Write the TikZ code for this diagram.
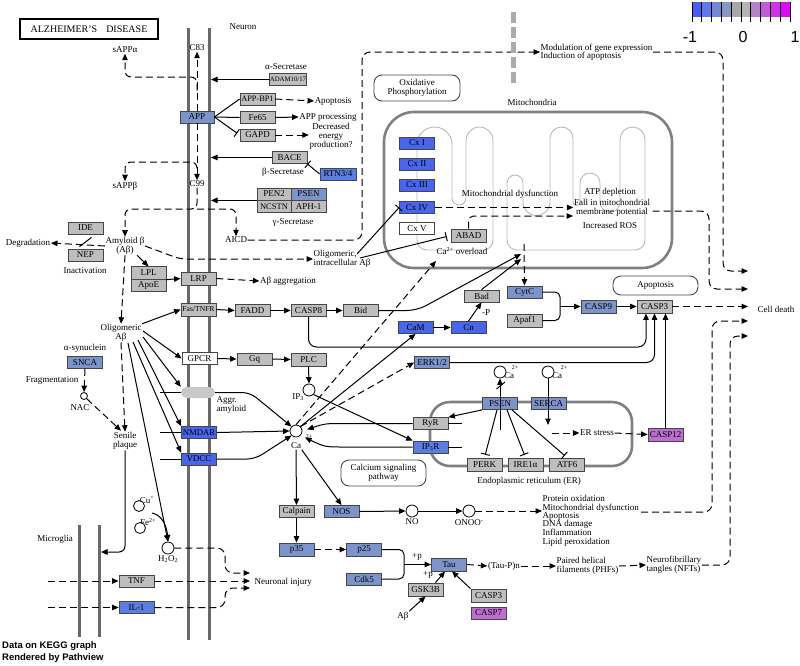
\documentclass[tikz,border=0pt]{standalone}
\usepackage{fontspec}
\setmainfont{Liberation Serif}
\newfontfamily\arialf{Liberation Sans}
\usetikzlibrary{arrows.meta,calc}
\definecolor{kgray}{RGB}{190,190,190}
\definecolor{kborder}{RGB}{70,70,70}
\definecolor{kbg}{RGB}{125,148,203}
\definecolor{kbi}{RGB}{72,101,236}
\definecolor{kbm}{RGB}{92,125,226}
\definecolor{kpur}{RGB}{190,110,210}
\definecolor{membc}{RGB}{105,105,105}
\definecolor{cristac}{RGB}{185,185,185}
\definecolor{pillc}{RGB}{200,200,200}
\definecolor{lg1}{RGB}{70,95,250}
\definecolor{lg2}{RGB}{95,120,235}
\definecolor{lg3}{RGB}{115,135,215}
\definecolor{lg4}{RGB}{135,150,195}
\definecolor{lg5}{RGB}{168,168,168}
\definecolor{lg6}{RGB}{180,180,180}
\definecolor{lg7}{RGB}{180,130,200}
\definecolor{lg8}{RGB}{195,90,215}
\definecolor{lg9}{RGB}{210,50,230}
\definecolor{lg10}{RGB}{222,10,245}
\tikzset{
  bx/.style={draw=kborder, line width=0.8pt, minimum width=35pt, minimum height=12pt, inner sep=0pt, font=\fontsize{9}{9}\selectfont},
  gbox/.style={bx, fill=kgray},
  bbox/.style={bx, fill=kbg},
  ibox/.style={bx, fill=kbi},
  mbox/.style={bx, fill=kbm},
  pbox/.style={bx, fill=kpur},
  wbox/.style={bx, fill=white},
  lbl/.style={inner sep=0.5pt, font=\fontsize{9}{9}\selectfont, align=center},
  tinylbl/.style={inner sep=0pt, font=\fontsize{6}{6}\selectfont},
  cmp/.style={circle, draw=black, line width=0.8pt, fill=white, minimum size=12pt, inner sep=0pt},
  ln/.style={line width=1pt},
  ar/.style={ln, -{Triangle[length=6.5pt,width=5.5pt]}},
  dar/.style={ar, dash pattern=on 7pt off 4pt},
  inh/.style={ln, -{Bar[width=9pt]}},
  memb/.style={line width=3pt, draw=membc},
  rbox/.style={draw=kborder, rounded corners=8pt, line width=0.9pt, fill=white, align=center, font=\fontsize{9}{9}\selectfont, inner sep=1pt},
  crista/.style={line width=0.9pt, draw=cristac}
}
\begin{document}
\begin{tikzpicture}[x=1pt,y=-1pt]
\fill[white] (0,0) rectangle (800,665);
\path[use as bounding box] (0,0) rectangle (800,665);

% ---------- membranes ----------
\draw[memb] (188,28) -- (188,640);
\draw[memb] (209,28) -- (209,640);
\draw[memb] (79,525) -- (79,637);
\draw[memb] (99,525) -- (99,637);

% mitochondrion
\draw[line width=2.6pt, draw=membc!85, rounded corners=30pt] (384,112) rectangle (672,268);
\draw[crista] (417,240) -- (417,144.5) arc[start angle=180,end angle=0,radius=17.5pt] -- (452,198) arc[start angle=180,end angle=360,radius=7pt] -- (466,140.5) arc[start angle=180,end angle=0,radius=13.5pt] -- (493,240) arc[start angle=0,end angle=-90,radius=10pt] -- (427,250) arc[start angle=270,end angle=180,radius=10pt] -- cycle;
\draw[crista] (507,240) -- (507,183) arc[start angle=180,end angle=0,radius=8pt] -- (523,202) arc[start angle=180,end angle=360,radius=13.5pt] -- (550,138.5) arc[start angle=180,end angle=0,radius=11.5pt] -- (573,202) arc[start angle=180,end angle=360,radius=3.5pt] -- (580,183) arc[start angle=180,end angle=0,radius=10pt] -- (600,202) arc[start angle=180,end angle=360,radius=10pt] -- (620,139.5) arc[start angle=180,end angle=0,radius=12.5pt] -- (645,240) arc[start angle=0,end angle=-90,radius=10pt] -- (517,250) arc[start angle=270,end angle=180,radius=10pt] -- cycle;

% ER
\draw[line width=2.6pt, draw=membc!85, rounded corners=20pt] (430,402) rectangle (632,466);

% ---------- legend ----------
\fill[lg1] (692,2) rectangle (701.8,17);
\fill[lg2] (701.8,2) rectangle (711.6,17);
\fill[lg3] (711.6,2) rectangle (721.4,17);
\fill[lg4] (721.4,2) rectangle (731.2,17);
\fill[lg5] (731.2,2) rectangle (741,17);
\fill[lg6] (741,2) rectangle (750.8,17);
\fill[lg7] (750.8,2) rectangle (760.6,17);
\fill[lg8] (760.6,2) rectangle (770.4,17);
\fill[lg9] (770.4,2) rectangle (780.2,17);
\fill[lg10] (780.2,2) rectangle (790,17);
\foreach \i in {0,...,10} { \draw[line width=0.8pt] (692+9.8*\i,2) -- (692+9.8*\i,22); }
\node[font=\arialf\fontsize{16}{16}\selectfont, inner sep=0] (lgm) at (690,37) {-1};
\node[font=\arialf\fontsize{16}{16}\selectfont, inner sep=0] (lg0) at (743,37) {0};
\node[font=\arialf\fontsize{16}{16}\selectfont, inner sep=0] (lgp) at (795,37) {1};

% ---------- title & text ----------
\node[draw=black, line width=1.5pt, minimum width=138pt, minimum height=20pt, inner sep=0pt, font=\fontsize{10}{10}\selectfont] (title) at (89,29) {ALZHEIMER'S\hspace{9pt}DISEASE};
\node[lbl] (neuron) at (243,27) {Neuron};
\node[lbl] (salpha) at (125,50) {sAPPα};
\node[lbl] (c83) at (197,48) {C83};
\node[lbl] (sbeta) at (125,186) {sAPPβ};
\node[lbl] (c99) at (197,184) {C99};
\node[lbl] (aicd) at (236,240) {AICD};
\node[lbl] (asec) at (286,67) {α-Secretase};
\node[lbl] (bsec) at (283,172) {β-Secretase};
\node[lbl] (gsec) at (293,222) {γ-Secretase};
\node[lbl] (apop1) at (333,101) {Apoptosis};
\node[lbl] (appproc) at (328,117) {APP processing};
\node[lbl] (decr) at (331,136) {Decreased\\energy\\production?};
\node[lbl, align=left, anchor=west, font=\fontsize{9}{8.3}\selectfont] (modul) at (540,52) {Modulation of gene expression\\Induction of apoptosis};
\node[lbl] (mito) at (532,102) {Mitochondria};
\node[lbl] (mitodys) at (510,194) {Mitochondrial dysfunction};
\node[lbl] (atpdep) at (610,192) {ATP depletion};
\node[lbl] (fall) at (612,208) {Fall in mitochondrial\\membrane potential};
\node[lbl] (ros) at (610,225) {Increased ROS};
\node[lbl, align=left, anchor=west] (oligi) at (313,259) {Oligomeric,\\intracellular Aβ};
\node[lbl] (overload) at (462,251) {Ca\textsuperscript{2+} overload};
\node[lbl] (degr) at (28,243) {Degradation};
\node[lbl] (abeta) at (125,246) {Amyloid β\\(Aβ)};
\node[lbl] (inact) at (85,271) {Inactivation};
\node[lbl] (aagg) at (288,281) {Aβ aggregation};
\node[lbl] (olig) at (121,333) {Oligomeric\\Aβ};
\node[lbl] (asyn) at (85,348) {α-synuclein};
\node[lbl] (frag) at (52,380) {Fragmentation};
\node[lbl] (naclbl) at (80,408) {NAC};
\node[lbl] (senile) at (125,441) {Senile\\plaque};
\node[lbl, align=left, anchor=west] (aggr) at (216,405) {Aggr.\\amyloid};
\node[lbl] (ip3lbl) at (298,397) {IP\textsubscript{3}};
\node[lbl] (calab) at (296,446) {Ca};
\node[tinylbl] (calab2) at (309,437) {2+};
\node[lbl] (erlbl) at (529,481) {Endoplasmic reticulum (ER)};
\node[lbl] (erstress) at (597,433) {ER stress};
\node[lbl] (nolbl) at (412,522) {NO};
\node[lbl] (onoolbl) at (469,523) {ONOO\textsuperscript{-}};
\node[lbl, align=left, anchor=north west, font=\fontsize{9}{8.2}\selectfont] (prot) at (542,495) {Protein oxidation\\Mitochondrial dysfunction\\Apoptosis\\DNA damage\\Inflammation\\Lipid peroxidation};
\node[lbl] (pp1) at (417,557) {+p};
\node[lbl] (pp2) at (428,575) {+p};
\node[lbl] (ablbl) at (403,616) {Aβ};
\node[lbl] (pmark) at (486,313) {-P};
\node[lbl] (taup) at (504,566) {(Tau-P)n};
\node[lbl, align=left, anchor=west, font=\fontsize{9}{8.5}\selectfont] (phf) at (556,566) {Paired helical\\filaments (PHFs)};
\node[lbl, align=left, anchor=west, font=\fontsize{9}{8.5}\selectfont] (nft) at (646,565) {Neurofibrillary\\tangles (NFTs)};
\node[lbl] (microglia) at (55,539) {Microglia};
\node[lbl, anchor=west] (ninj) at (254,582) {Neuronal injury};
\node[lbl, anchor=west] (celld) at (757,309) {Cell death};
\node[lbl] (cul) at (147,500) {Cu\textsuperscript{+}};
\node[lbl] (fel) at (148,522) {Fe\textsuperscript{2+}};
\node[lbl] (h2o2lbl) at (168,559) {H\textsubscript{2}O\textsubscript{2}};
\node[lbl] (ca1l) at (509,376) {Ca};
\node[tinylbl] (ca1s) at (515,368) {2+};
\node[lbl] (ca2l) at (557,376) {Ca};
\node[tinylbl] (ca2s) at (564,368) {2+};
\node[anchor=west, align=left, inner sep=0, font=\arialf\bfseries\fontsize{9.5}{12}\selectfont] (data) at (2,652) {Data on KEGG graph\\Rendered by Pathview};

% rounded info boxes
\node[rbox, minimum width=86pt, minimum height=26pt] (oxphos) at (417,88) {Oxidative\\Phosphorylation};
\node[rbox, minimum width=85pt, minimum height=19pt] (apopbox) at (655.5,285.5) {Apoptosis};
\node[rbox, minimum width=85pt, minimum height=26pt] (calsig) at (383.5,473) {Calcium signaling\\pathway};

% ---------- gene boxes ----------
\node[bbox, minimum width=34pt] (app) at (197,117) {APP};
\node[gbox, minimum width=36pt, font=\fontsize{6.8}{7}\selectfont] (adam) at (288,79.5) {ADAM10/17};
\node[gbox, font=\fontsize{8.3}{8}\selectfont] (appbp1) at (257.5,99) {APP-BP1};
\node[gbox] (fe65) at (257.5,117.5) {Fe65};
\node[gbox] (gapd) at (257.5,135) {GAPD};
\node[gbox] (bace) at (289.5,157.5) {BACE};
\node[mbox, minimum width=36pt] (rtn) at (338,174) {RTN3/4};
\node[gbox, minimum width=34pt] (pen2) at (274,194) {PEN2};
\node[bbox] (psen) at (308.5,194) {PSEN};
\node[gbox, minimum width=34pt, minimum height=12.5pt, font=\fontsize{8.5}{9}\selectfont] (ncstn) at (274,206.5) {NCSTN};
\node[gbox, minimum height=12.5pt] (aph) at (308.5,206.5) {APH-1};
\node[ibox] (cx1) at (417,143) {Cx I};
\node[ibox] (cx2) at (417,164) {Cx II};
\node[ibox] (cx3) at (417,185) {Cx III};
\node[ibox] (cx4) at (417,207.5) {Cx IV};
\node[wbox] (cx5) at (417,228.5) {Cx V};
\node[gbox, minimum height=13pt] (abad) at (468.5,235.5) {ABAD};
\node[gbox] (ide) at (85.5,228) {IDE};
\node[gbox] (nep) at (85.5,255) {NEP};
\node[gbox, minimum height=12.5pt] (lpl) at (148.5,273) {LPL};
\node[gbox, minimum height=12.5pt] (apoe) at (148.5,285.5) {ApoE};
\node[gbox, minimum height=13pt] (lrp) at (198.5,278.5) {LRP};
\node[gbox, minimum height=13pt, font=\fontsize{7.6}{8}\selectfont] (fas) at (198.5,309.5) {Fas/TNFR};
\node[gbox] (fadd) at (252.5,310.5) {FADD};
\node[gbox] (casp8) at (308.5,310.5) {CASP8};
\node[gbox] (bid) at (360.5,310.5) {Bid};
\node[gbox] (bad) at (481.5,296) {Bad};
\node[ibox] (cam) at (415.5,327.5) {CaM};
\node[ibox] (cn) at (468.5,327.5) {Cn};
\node[bbox] (cytc) at (524.5,292) {CytC};
\node[gbox, minimum height=13pt] (apaf) at (524.5,320.5) {Apaf1};
\node[bbox, minimum height=13pt] (casp9) at (598.5,306.5) {CASP9};
\node[gbox, minimum height=13pt] (casp3) at (654.5,306.5) {CASP3};
\node[wbox] (gpcr) at (199.5,358.5) {GPCR};
\node[gbox] (gq) at (254.5,359) {Gq};
\node[gbox, minimum height=13pt] (plc) at (308.5,359.5) {PLC};
\node[bbox] (erk) at (432,362.5) {ERK1/2};
\node[bbox] (snca) at (85,362.5) {SNCA};
\node[fill=pillc, rounded corners=5.5pt, minimum width=34pt, minimum height=11pt, inner sep=0] (pill) at (198,392.5) {};
\node[ibox, font=\fontsize{8.7}{9}\selectfont] (nmdar) at (199,432.5) {NMDAR};
\node[ibox] (vdcc) at (199,459) {VDCC};
\node[gbox] (ryr) at (430.5,423.5) {RyR};
\node[mbox] (ip3r) at (430.5,447) {IP\textsubscript{3}R};
\node[bbox] (psen2) at (500,403.5) {PSEN};
\node[bbox] (serca) at (548.5,403.5) {SERCA};
\node[gbox, minimum height=13pt] (perk) at (484.5,464.5) {PERK};
\node[gbox, minimum height=13pt] (ire) at (525.5,464.5) {IRE1α};
\node[gbox, minimum height=13pt] (atf6) at (567,464.5) {ATF6};
\node[pbox, minimum height=13pt] (casp12) at (665.5,434.5) {CASP12};
\node[gbox] (calpain) at (296.5,511.5) {Calpain};
\node[bbox] (nos) at (341.5,511.5) {NOS};
\node[bbox, minimum height=13pt] (p35) at (296.5,549.5) {p35};
\node[bbox, minimum height=13pt] (p25) at (364,549.5) {p25};
\node[bbox] (cdk5) at (364,579) {Cdk5};
\node[bbox, minimum height=13pt] (tau) at (449,564.5) {Tau};
\node[gbox, minimum height=13pt] (gsk) at (425.5,589.5) {GSK3B};
\node[gbox, minimum height=13pt] (casp3b) at (488.5,595.5) {CASP3};
\node[pbox] (casp7) at (488.5,613) {CASP7};
\node[gbox] (tnf) at (136.5,581) {TNF};
\node[mbox] (il1) at (136.5,607.5) {IL-1};

% compounds
\node[cmp, minimum size=7pt] (nac) at (84,396) {};
\node[cmp] (ip3) at (309,390) {};
\node[cmp] (cac) at (296,431) {};
\node[cmp] (erca1) at (500,372) {};
\node[cmp] (erca2) at (548,372) {};
\node[cmp] (no) at (412,511) {};
\node[cmp] (onoo) at (469,511) {};
\node[cmp, minimum size=11pt] (cu) at (139,506) {};
\node[cmp, minimum size=11pt] (fe) at (140,528) {};
\node[cmp] (h2o2) at (168,548) {};

% free ends
\coordinate (cd1) at (748,271);
\coordinate (cd2) at (748,289);
\coordinate (cd3) at (748,306.5);
\coordinate (cd4) at (748,321);
\coordinate (cd5) at (748,336);
\coordinate (mj0) at (524,244);
\coordinate (mj1) at (521,254);
\coordinate (mj2) at (521,259);
\coordinate (ovl) at (436,261);
\coordinate (fa2) at (573,216);
\coordinate (oi1) at (357,254);
\coordinate (oi2) at (360,258);
\coordinate (o1) at (143,331);
\coordinate (o2) at (143,337);
\coordinate (o3) at (138,340);
\coordinate (o4) at (133,342);
\coordinate (o5) at (128,343);
\coordinate (pseni) at (500,430);
\coordinate (sercai) at (548,425);
\coordinate (ers) at (552,433);
\coordinate (protend) at (641,512);
\coordinate (ni1) at (250,573);
\coordinate (ni2) at (250,581);
\coordinate (ni3) at (250,588);
\coordinate (tnfin) at (48,581);
\coordinate (ilin) at (48,607.5);
\coordinate (mglia) at (101,552);
\coordinate (cufe) at (152,513);

% ---------- APP processing ----------
\draw[dar] (app.north) -- (c83.south);
\draw[dar, rounded corners=6pt] ($(app.north)+(0,-20)$) -- (197,77) -- (125,77) -- (salpha.south);
\draw[dar] (app.south) -- (c99.north);
\draw[dar, rounded corners=6pt] ($(app.south)+(0,45)$) -- (197,162) -- (125,162) -- (sbeta.north);
\draw[dar, rounded corners=6pt] (c99.south) -- (197,209) -- (125,209) -- (abeta.north);
\draw[dar, rounded corners=6pt] (197,209) -- (236,209) -- (aicd.north);
\draw[dar, rounded corners=8pt] (aicd.east) -- (362,240) -- (362,52) -- (modul.west);
\draw[line width=5pt, draw=black!33, dash pattern=on 11pt off 4pt] (513,12) -- (513,84);
\draw[dar, rounded corners=8pt] (modul.east) -- (723,52) -- (723,271) -- (cd1);

\draw[ar] (adam.west) -- (adam.west -| 211,0);
\draw[ar] (bace.west) -- (bace.west -| 211,0);
\draw[ar] (pen2.south west) -- (pen2.south west -| 211,0);
\draw[ln] (app.east) -- (appbp1.west);
\draw[ln] (app.east) -- (fe65.west);
\draw[inh, shorten >=3pt] (app.east) -- (gapd.west);
\draw[dar] (appbp1.east) -- (apop1.west);
\draw[ar] (fe65.east) -- (appproc.west);
\draw[dar] (gapd.east) -- (decr.west |- gapd.east);
\draw[inh] (rtn.west) -- (bace.south east);

% ---------- mitochondria ----------
\draw[dar] (cx4.east) -- (cx4.east -| fall.west);
\draw[dar, rounded corners=5pt] (abad.north) -- (468.5,216) -- (fa2);
\draw[inh] (oi1) -- (cx4.west);
\draw[inh, shorten >=4pt] (oi2) -- (abad.west);
\draw[dar, rounded corners=6pt] (abeta.east) -- (180,259) -- (oligi.west);
\draw[dar, rounded corners=8pt] ($(fall.east)+(2,3)$) -- (709,211) -- (709,289) -- (cd2);

% ---------- amyloid ----------
\draw[dar] (abeta.west) -- (degr.east);
\draw[ln] ($(nep.north)+(-6,-2)$) -- ($(ide.south)+(6,3)$);
\draw[dar] (abeta.south) -- (olig.north);
\draw[dar] (olig.south) -- (senile.north);
\draw[ar] ($(abeta.south east)+(-8,0)$) -- (lpl.north);
\draw[ar] (lpl.south east) -- (lrp.west);
\draw[dar] (lrp.east) -- (aagg.west);
\draw[ar] (olig.north east) -- (fas.west);
\draw[ar] (fas.east) -- (fadd.west);
\draw[ar] (fadd.east) -- (casp8.west);
\draw[ar] (casp8.east) -- (bid.west);
\draw[ar, rounded corners=10pt] (bid.east) -- (417,310.5) -- (mj1);
\draw[ar] (bad.north) -- (mj2);
\draw[dar] (mj0) -- (cytc.north);
\draw[ar] (cam.east) -- (cn.west);
\draw[ar] (cn.north) -- (bad.south);
\draw[ln, rounded corners=5pt] (cytc.east) -- (560,292) -- (560,320.5) -- (apaf.east);
\draw[ar] (560,306.5) -- (casp9.west);
\draw[ar] (casp9.east) -- (casp3.west);
\draw[dar] (casp3.east) -- (cd3);
\draw[ar, rounded corners=8pt] (casp8.south) -- (308.5,347) -- (646,347) -- ($(casp3.south)+(-8.5,0)$);
\draw[ar, rounded corners=8pt] (erk.east) -- (654.5,362.5) -- (casp3.south);
\draw[ar] (casp12.north) -- (casp12.north |- casp3.south);

% oligomeric
\draw[ar] (o1) -- (gpcr.west);
\draw[ar] (o2) -- (pill.north west);
\draw[ar] (o3) -- (nmdar.north west);
\draw[ar] (o4) -- (vdcc.north west);
\draw[ar] (o5) -- (h2o2.north);
\draw[ln] (160,392.5) -- (pill.west);
\draw[ln] (160,432.5) -- (nmdar.west);
\draw[ln] (160,459) -- (vdcc.west);
\draw[ar, rounded corners=8pt] (pill.east) -- (250,392.5) -- (cac.north west);
\draw[ar] (nmdar.east) -- (cac.west);
\draw[ar, rounded corners=8pt] (vdcc.east) -- (255,459) -- (cac.south west);

\draw[dar] (snca.south) -- (nac.north);
\draw[dar] (nac.south east) -- ($(senile.north)+(-4,-1)$);

\draw[ar] (gpcr.east) -- (gq.west);
\draw[ar] (gq.east) -- (plc.west);
\draw[ar] (plc.south) -- (ip3.north);
\draw[ar] (ip3.south east) -- (ip3r.north west);

% calcium
\draw[ar, shorten >=5pt] (ryr.west) -- (345,423.5) .. controls (325,423.5) .. (cac.east);
\draw[ar, shorten >=5pt] (ip3r.west) -- (345,447) .. controls (325,447) .. (cac.south east);
\draw[dar] (cac.north) -- (ovl);
\draw[dar] (cac.north east) -- (erk.west);
\draw[ar] (cac.north east) -- (cam.south);
\draw[ar] (calab.south) -- (calpain.north);
\draw[ar] (calab.south east) -- (nos.north);
\draw[ar] (nos.east) -- (no.west);
\draw[ar] (no.east) -- (onoo.west);
\draw[dar] (onoo.east) -- (onoo.east -| prot.west);
\draw[dar, rounded corners=8pt] (protend) -- (712,512) -- (712,321) -- (cd4);

% ER
\draw[ln] (ryr.east) -- (462,423.5);
\draw[ln] (ip3r.east) -- (462,447);
\draw[ar] (pseni) -- (erca1.south);
\draw[ln] (496.5,389) -- (505,382);
\draw[ar] (erca2.south) -- (sercai);
\draw[ar] (psen2.south west) -- (ryr.north east);
\draw[inh, shorten >=3pt] ($(psen2.south)+(-3,0)$) -- (perk.north);
\draw[inh, shorten >=3pt] ($(psen2.south)+(7,0)$) -- (ire.north);
\draw[inh, shorten >=3pt] ($(psen2.south)+(12,0)$) -- (atf6.north);
\draw[dar] (ers) -- (erstress.west);
\draw[dar] (erstress.east) -- (casp12.west);

% tau
\draw[ar] (calpain.south) -- (p35.north);
\draw[dar] (p35.east) -- (p25.west);
\draw[ln, rounded corners=5pt] (p25.east) -- (404,549.5) -- (404,579) -- (cdk5.east);
\draw[ar] (404,564.5) -- (tau.west);
\draw[ar] ($(gsk.north)+(10,0)$) -- ($(tau.south)+(-4,0)$);
\draw[ar] (ablbl.north east) -- (gsk.south);
\draw[ar] (casp3b.north west) -- ($(tau.south)+(3,0)$);
\draw[dar] (tau.east) -- (taup.west);
\draw[dar] (taup.east) -- (phf.west);
\draw[dar] (phf.east) -- (nft.west);
\draw[dar, rounded corners=8pt] (nft.east) -- (730,565) -- (730,336) -- (cd5);

% microglia / injury
\draw[ar, rounded corners=6pt] (senile.south) -- (125,552) -- (mglia);
\draw[ar] (cufe) .. controls (163,515) and (167,528) .. (h2o2.north);
\draw[dar, rounded corners=8pt] (h2o2.east) -- (225,548) -- (225,573) -- (ni1);
\draw[dar] (tnfin) -- (tnf.west);
\draw[dar] (ilin) -- (il1.west);
\draw[dar] (tnf.east) -- (ni2);
\draw[dar, rounded corners=8pt] (il1.east) -- (225,607.5) -- (225,588) -- (ni3);
\end{tikzpicture}
\end{document}
